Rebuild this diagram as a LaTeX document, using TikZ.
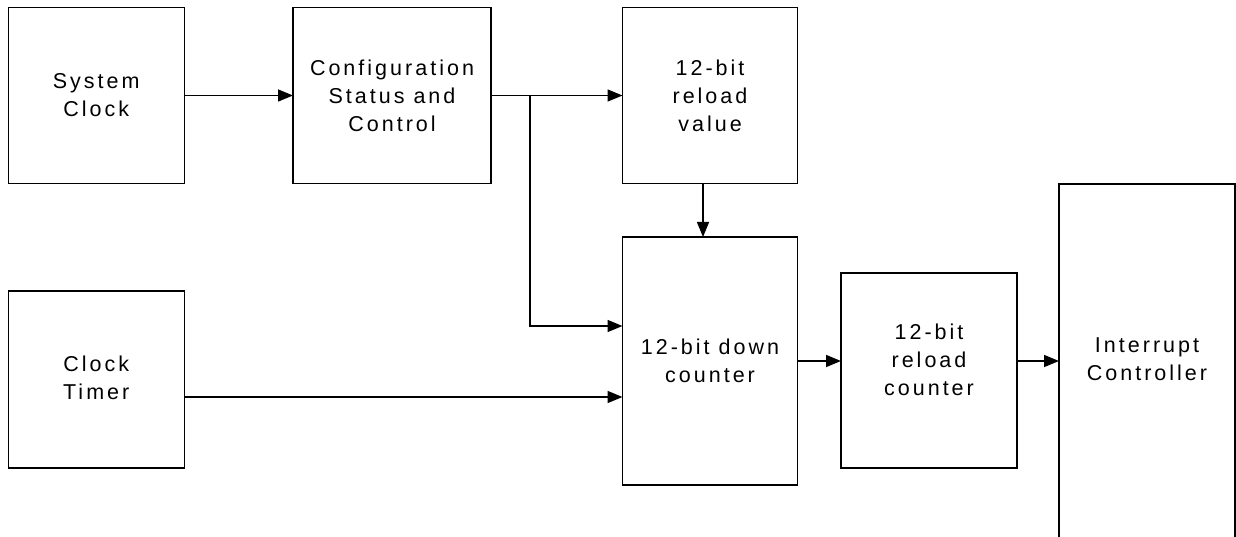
\documentclass[tikz,border=0pt]{standalone}
\usepackage{fontspec}
\newfontfamily\lblfont[LetterSpace=14]{Liberation Sans}
\usetikzlibrary{arrows.meta}
\tikzset{
  blk/.style={draw, line width=1.5pt, inner sep=0pt, outer sep=0pt, align=center,
    font=\lblfont\fontsize{21.5}{28}\selectfont, text=black},
  txt/.style={inner sep=0pt, align=center, font=\lblfont\fontsize{21.5}{28}\selectfont, text=black},
  arr/.style={line width=1.5pt, -{Triangle[length=15pt,width=12pt]}},
  wire/.style={line width=1.5pt}
}
\begin{document}
\begin{tikzpicture}[x=1pt,y=-1pt]
\useasboundingbox (0,0) rectangle (1236,537);
\node[blk, minimum width=176, minimum height=176] (sys) at (96.25,95.5) {System\\Clock};
\node[blk, minimum width=198, minimum height=176] (cfg) at (392,95.5) {Configuration\\Status and\\Control};
\node[blk, minimum width=175, minimum height=176] (rv) at (710,95.5) {12-bit\\reload\\value};
\node[blk, minimum width=176, minimum height=177] (tmr) at (96.25,379.5) {};
\node[txt] (tmrt) at (96.25,377.5) {Clock\\Timer};
\node[blk, minimum width=175, minimum height=248] (dc) at (710,361) {12-bit down\\counter};
\node[blk, minimum width=176, minimum height=195] (rc) at (929,370.5) {};
\node[txt] (rct) at (929,360) {12-bit\\reload\\counter};
\node[blk, minimum width=176, minimum height=362] (ic) at (1147,365) {};
\node[txt] (ict) at (1147,359.5) {Interrupt\\Controller};

\coordinate (br) at (530,95.5);
\coordinate (dcin1) at (622.5,326);
\coordinate (dcin2) at (622.5,397);
\coordinate (tmrout) at (184.25,397);
\coordinate (rvout) at (703,183.5);
\coordinate (dcin0) at (703,237);

\draw[arr] (sys.east) -- (cfg.west);
\draw[arr] (cfg.east) -- (rv.west);
\draw[arr] (br) |- (dcin1);
\draw[arr] (rvout) -- (dcin0);
\draw[arr] (tmrout) -- (dcin2);
\draw[arr] (dc.east) -- (dc.east -| rc.west);
\draw[arr] (dc.east -| rc.east) -- (dc.east -| ic.west);
\end{tikzpicture}
\end{document}
